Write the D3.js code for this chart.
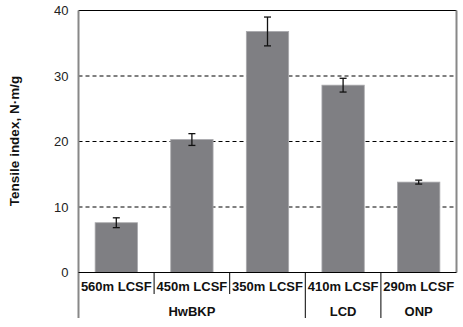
<!DOCTYPE html>
<html>
<head>
<meta charset="utf-8">
<script src="https://cdn.jsdelivr.net/npm/d3@7"></script>
<style>
  html, body { margin: 0; padding: 0; background: #fff; }
  svg { display: block; font-family: "Liberation Sans", Arial, sans-serif; }
</style>
</head>
<body>
<svg id="chart" width="463" height="327"></svg>
<script>
// Tensile index per furnish / refining condition
const categories = ["560m LCSF", "450m LCSF", "350m LCSF", "410m LCSF", "290m LCSF"];
const groups = ["HwBKP", "HwBKP", "HwBKP", "LCD", "ONP"];
const values = [7.6, 20.3, 36.8, 28.6, 13.8];
const errors = [0.75, 0.9, 2.2, 1.05, 0.3];
const yTicks = [0, 10, 20, 30, 40];

const svg = d3.select("#chart");
const plotLeft = 78.5, plotRight = 456.5, plotTop = 10.5, plotBottom = 272.5;

const x = d3.scaleBand().domain(d3.range(categories.length)).range([plotLeft, plotRight]).paddingInner(0.44).paddingOuter(0.22);
const band = d3.scaleBand().domain(d3.range(categories.length)).range([plotLeft, plotRight]);
const y = d3.scaleLinear().domain([0, 40]).range([plotBottom, plotTop]);

// dashed gridlines
svg.append("g").selectAll("line").data(yTicks.filter(t => t > 0 && t < 40)).join("line")
  .attr("x1", plotLeft).attr("x2", plotRight)
  .attr("y1", d => y(d)).attr("y2", d => y(d))
  .attr("stroke", "#000").attr("stroke-width", 1).attr("stroke-dasharray", "4,3");

// bars
svg.append("g").selectAll("rect").data(values).join("rect")
  .attr("x", (d, i) => x(i)).attr("width", x.bandwidth())
  .attr("y", d => y(d)).attr("height", d => y(0) - y(d))
  .attr("fill", "#7f7f83").attr("stroke", "#a9a9ac").attr("stroke-width", 0.8);

// error bars
const eb = svg.append("g").attr("stroke", "#111").attr("stroke-width", 1.3);
values.forEach((v, i) => {
  const cx = x(i) + x.bandwidth() / 2;
  eb.append("line").attr("x1", cx).attr("x2", cx).attr("y1", y(v + errors[i])).attr("y2", y(v - errors[i]));
  [v + errors[i], v - errors[i]].forEach(e => {
    eb.append("line").attr("x1", cx - 3.5).attr("x2", cx + 3.5).attr("y1", y(e)).attr("y2", y(e));
  });
});

// top frame line and right border
svg.append("line").attr("x1", plotLeft).attr("x2", plotRight).attr("y1", plotTop).attr("y2", plotTop)
  .attr("stroke", "#000").attr("stroke-width", 1.2);
svg.append("line").attr("x1", plotRight).attr("x2", plotRight).attr("y1", plotTop).attr("y2", plotBottom)
  .attr("stroke", "#888").attr("stroke-width", 2);

// y axis
const yAxis = d3.axisLeft(y).tickValues(yTicks).tickSize(0).tickPadding(10);
const ya = svg.append("g").attr("transform", `translate(${plotLeft},0)`).call(yAxis);
ya.select(".domain").remove();
ya.selectAll("text").attr("font-size", 13).attr("fill", "#222");
svg.append("line").attr("x1", plotLeft).attr("x2", plotLeft).attr("y1", plotTop).attr("y2", 318)
  .attr("stroke", "#888").attr("stroke-width", 2);

// x axis baseline
svg.append("line").attr("x1", plotLeft).attr("x2", plotRight).attr("y1", plotBottom).attr("y2", plotBottom)
  .attr("stroke", "#000").attr("stroke-width", 1.2);

// category labels
svg.append("g").selectAll("text").data(categories).join("text")
  .attr("x", (d, i) => band(i) + band.bandwidth() / 2).attr("y", 290.5)
  .attr("text-anchor", "middle").attr("font-size", 13).attr("font-weight", "bold")
  .attr("fill", "#111").text(d => d);

// separators between categories: short within a group, long between groups
for (let i = 1; i < categories.length; i++) {
  const sx = band(i);
  const sameGroup = groups[i] === groups[i - 1];
  svg.append("line").attr("x1", sx).attr("x2", sx).attr("y1", plotBottom).attr("y2", sameGroup ? 294 : 318)
    .attr("stroke", "#000").attr("stroke-width", 1);
}

// group labels
const groupSpans = [];
groups.forEach((g, i) => {
  const last = groupSpans[groupSpans.length - 1];
  if (last && last.name === g) last.end = i; else groupSpans.push({ name: g, start: i, end: i });
});
svg.append("g").selectAll("text").data(groupSpans).join("text")
  .attr("x", d => (band(d.start) + band(d.end) + band.bandwidth()) / 2).attr("y", 315.5)
  .attr("text-anchor", "middle").attr("font-size", 13).attr("font-weight", "bold")
  .attr("fill", "#111").text(d => d.name);

// y axis title
svg.append("text").attr("transform", "translate(19,141) rotate(-90)")
  .attr("text-anchor", "middle").attr("font-size", 13.5).attr("font-weight", "bold")
  .attr("fill", "#111").text("Tensile index, N·m/g");
</script>
</body>
</html>
